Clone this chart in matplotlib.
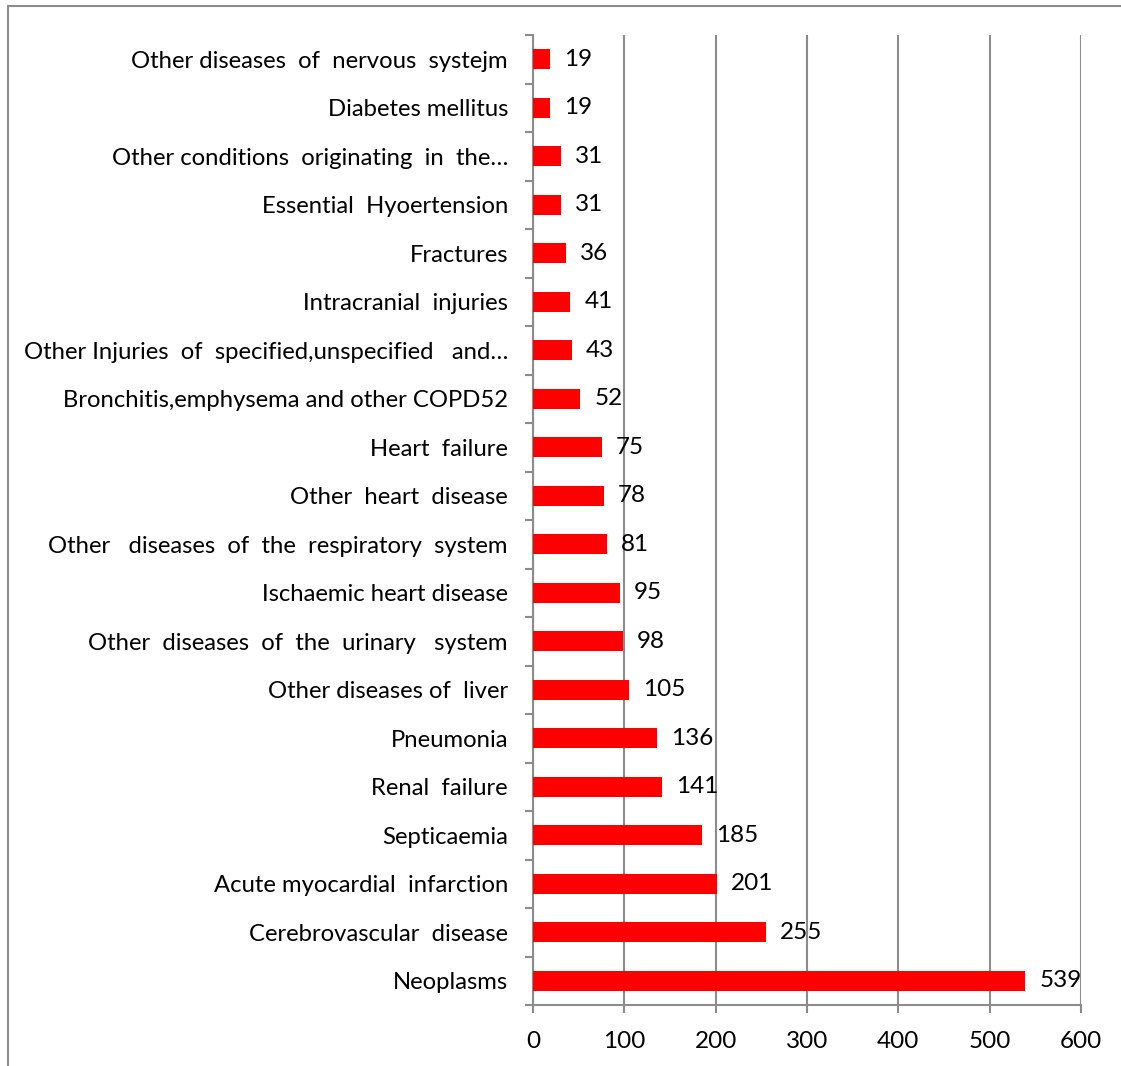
import matplotlib
matplotlib.use("Agg")
import matplotlib.pyplot as plt
from matplotlib.patches import Rectangle

# categories listed bottom to top
causes = [
    "Neoplasms",
    "Cerebrovascular  disease",
    "Acute myocardial  infarction",
    "Septicaemia",
    "Renal  failure",
    "Pneumonia",
    "Other diseases of  liver",
    "Other  diseases  of  the  urinary   system",
    "Ischaemic heart disease",
    "Other   diseases  of  the  respiratory  system",
    "Other  heart  disease",
    "Heart  failure",
    "Bronchitis,emphysema and other COPD52",
    "Other Injuries  of  specified,unspecified   and\u2026",
    "Intracranial  injuries",
    "Fractures",
    "Essential  Hyoertension",
    "Other conditions  originating  in  the\u2026",
    "Diabetes mellitus",
    "Other diseases  of  nervous  systejm",
]
deaths = [539, 255, 201, 185, 141, 136, 105, 98, 95, 81,
          78, 75, 52, 43, 41, 36, 31, 31, 19, 19]
x_ticks = [0, 100, 200, 300, 400, 500, 600]

plt.rcParams['font.family'] = ['Lato', 'DejaVu Sans']
GRAY = "#8c8c8c"

fig = plt.figure(figsize=(11.21, 10.66), dpi=100)
ax = fig.add_axes([533 / 1121, 1 - 1005 / 1066, (1081 - 533) / 1121, (1005 - 35) / 1066])

pos = list(range(len(causes)))
ax.barh(pos, deaths, height=0.41, color="#ff0000", zorder=3)

for y, v in zip(pos, deaths):
    ax.annotate(str(v), (v, y), xytext=(10, 0), textcoords="offset points",
                va="center", ha="left", fontsize=17.5, color="black", zorder=4)

ax.set_xlim(0, 600)
ax.set_ylim(-0.5, len(causes) - 0.5)
ax.set_xticks(x_ticks)
ax.set_xticklabels([str(t) for t in x_ticks], fontsize=17.5)
ax.set_yticks(pos)
ax.set_yticklabels(causes, fontsize=17.2)
ax.set_yticks([p - 0.5 for p in pos] + [len(causes) - 0.5], minor=True)
ax.tick_params(axis="y", which="major", length=0, pad=18)
ax.tick_params(axis="y", which="minor", length=6, width=1.5, color=GRAY)
ax.tick_params(axis="x", length=6, width=1.5, color=GRAY, pad=13)

ax.grid(axis="x", color=GRAY, linewidth=1.5, zorder=0)
for side in ["top", "right"]:
    ax.spines[side].set_visible(False)
for side in ["left", "bottom"]:
    ax.spines[side].set_color(GRAY)
    ax.spines[side].set_linewidth(1.5)

# outer chart frame (cut off on the right and bottom)
fig.patches.append(Rectangle((8 / 1121, -0.1), 1.2, 1.1 - 6 / 1066,
                             transform=fig.transFigure, fill=False,
                             edgecolor=GRAY, linewidth=1.5))

fig.savefig("out.png", dpi=100)
